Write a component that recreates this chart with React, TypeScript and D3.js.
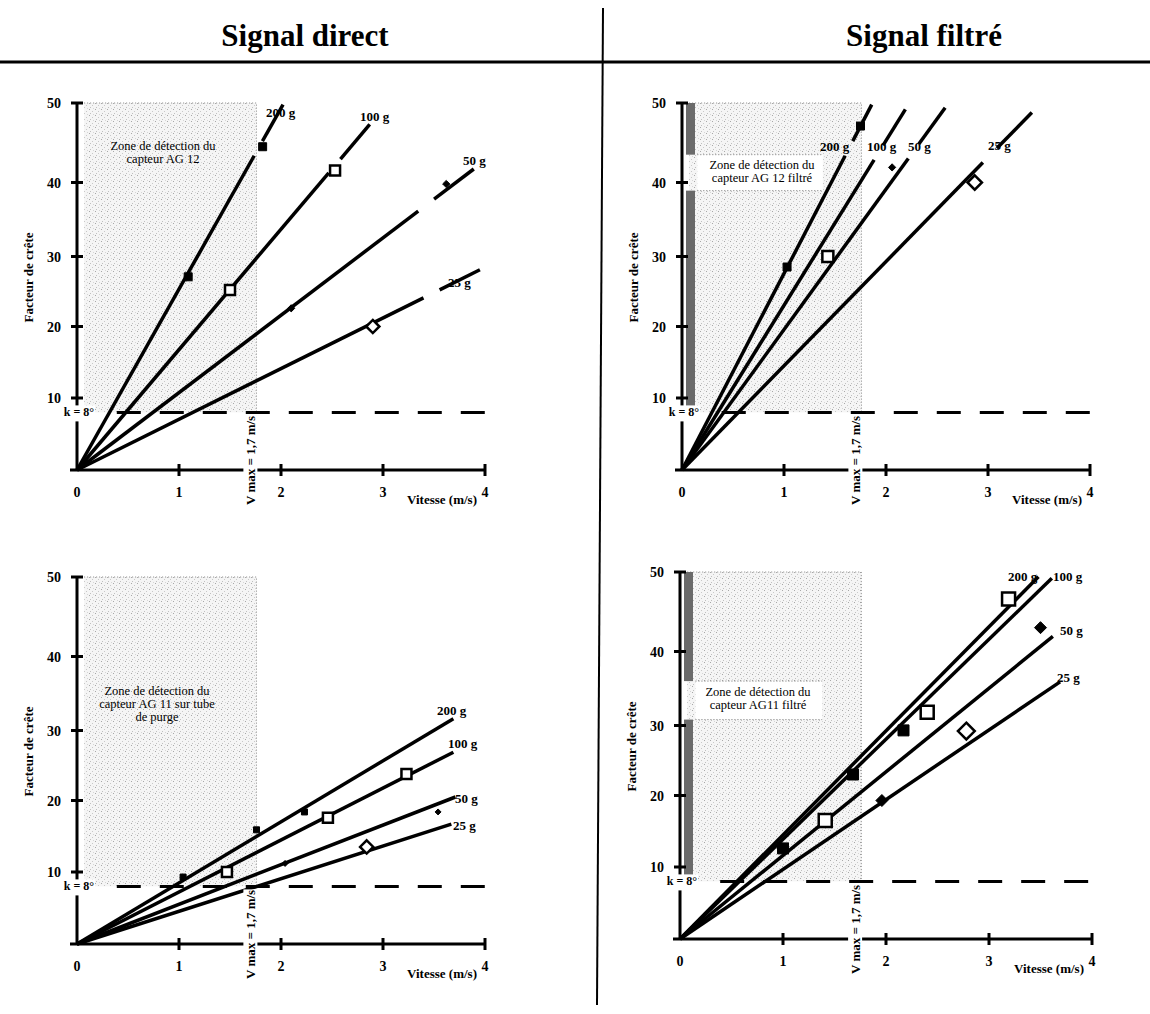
import React, { useEffect, useRef } from 'react';
import * as d3 from 'd3';

const massLabels = ['200 g', '100 g', '50 g', '25 g'];
const xTicks = [0, 1, 2, 3, 4];
const yTicks = [10, 20, 30, 40, 50];
const kValue = 8;
const vMax = 1.7;
const zoneLeft = 0.07;
const zoneRight = 1.76;
const titles = ['Signal direct', 'Signal filtré'];

// end of each fitted line (200 g, 100 g, 50 g, 25 g), in (m/s, facteur de crête)
const directAG12Ends = [[2.02, 49.8], [2.87, 47.3], [3.89, 41.7], [3.95, 28.1]];
const filteredAG12Ends = [[1.86, 49.8], [2.19, 49.2], [2.58, 49.4], [3.43, 48.8]];
const directAG11Ends = [[3.69, 31.6], [3.69, 26.9], [3.71, 20.5], [3.67, 16.7]];
const filteredAG11Ends = [[3.48, 49.4], [3.61, 49.2], [3.62, 41.9], [3.69, 35.9]];

// measured points
const directAG12Squares = [[1.09, 27.1], [1.82, 44.5]];
const directAG12OpenSquares = [[1.5, 25.2], [2.53, 41.5]];
const directAG12Diamonds = [[2.1, 22.6], [3.62, 39.8]];
const directAG12OpenDiamonds = [[2.9, 20.0]];

const filteredAG12Squares = [[1.03, 28.5], [1.75, 47.1]];
const filteredAG12OpenSquares = [[1.43, 30.0]];
const filteredAG12Diamonds = [[2.06, 41.9]];
const filteredAG12OpenDiamonds = [[2.87, 40.0]];

const directAG11Squares = [[1.04, 9.3], [1.76, 15.9], [2.23, 18.4]];
const directAG11OpenSquares = [[1.47, 10.0], [2.46, 17.6], [3.23, 23.8]];
const directAG11Diamonds = [[2.04, 11.2], [3.54, 18.4]];
const directAG11OpenDiamonds = [[2.84, 13.5]];

const filteredAG11Squares = [[1.0, 12.6], [1.68, 23.0], [2.17, 29.3]];
const filteredAG11OpenSquares = [[1.41, 16.5], [2.4, 31.8], [3.19, 46.6]];
const filteredAG11Diamonds = [[1.96, 19.3], [3.5, 43.0]];
const filteredAG11OpenDiamonds = [[2.78, 29.2]];

const directAG12Zone = ['Zone de détection du', 'capteur AG 12'];
const filteredAG12Zone = ['Zone de détection du', 'capteur AG 12 filtré'];
const directAG11Zone = ['Zone de détection du', 'capteur AG 11 sur tube', 'de purge'];
const filteredAG11Zone = ['Zone de détection du', 'capteur AG11 filtré'];

type Pt = number[];
interface Panel {
  tx: number;
  ty: number;
  w: number;
  ends: Pt[];
  markers: { shape: string; size: number; pts: Pt[] }[];
  zoneText: string[];
  zonePos: number[];
  labelPos: number[][];
  stub: boolean;
  strip?: number[][];
  box?: number[];
}

const panels: Panel[] = [
  {
    tx: 77, ty: 103, w: 408, ends: directAG12Ends, stub: true,
    markers: [
      { shape: 'sq', size: 8, pts: directAG12Squares },
      { shape: 'osq', size: 10, pts: directAG12OpenSquares },
      { shape: 'dia', size: 6, pts: directAG12Diamonds },
      { shape: 'odia', size: 11, pts: directAG12OpenDiamonds },
    ],
    zoneText: directAG12Zone, zonePos: [86, 47],
    labelPos: [[189, 14], [283, 18], [386, 62], [371, 184]],
  },
  {
    tx: 682, ty: 103, w: 408, ends: filteredAG12Ends, stub: true,
    markers: [
      { shape: 'sq', size: 8, pts: filteredAG12Squares },
      { shape: 'osq', size: 11, pts: filteredAG12OpenSquares },
      { shape: 'dia', size: 6, pts: filteredAG12Diamonds },
      { shape: 'odia', size: 12, pts: filteredAG12OpenDiamonds },
    ],
    zoneText: filteredAG12Zone, zonePos: [80, 66],
    labelPos: [[138, 48], [185, 48], [226, 48], [306, 47]],
    strip: [[kValue, 38.9], [43.5, 50]], box: [0.15, 1.38, 38.9, 43.5],
  },
  {
    tx: 77, ty: 577, w: 408, ends: directAG11Ends, stub: false,
    markers: [
      { shape: 'sq', size: 6, pts: directAG11Squares },
      { shape: 'osq', size: 10, pts: directAG11OpenSquares },
      { shape: 'dia', size: 5, pts: directAG11Diamonds },
      { shape: 'odia', size: 11, pts: directAG11OpenDiamonds },
    ],
    zoneText: directAG11Zone, zonePos: [80, 118],
    labelPos: [[360, 138], [371, 171], [378, 226], [376, 253]],
  },
  {
    tx: 680, ty: 572, w: 412, ends: filteredAG11Ends, stub: false,
    markers: [
      { shape: 'sq', size: 11, pts: filteredAG11Squares },
      { shape: 'osq', size: 13, pts: filteredAG11OpenSquares },
      { shape: 'dia', size: 10, pts: filteredAG11Diamonds },
      { shape: 'odia', size: 14, pts: filteredAG11OpenDiamonds },
    ],
    zoneText: filteredAG11Zone, zonePos: [78, 124],
    labelPos: [[328, 9], [373, 9], [380, 63], [377, 110]],
    strip: [[kValue, 30.8], [36, 50]], box: [0.15, 1.38, 30.8, 36],
  },
];

const FONT = '"Liberation Serif", "DejaVu Serif", serif';

const App: React.FC = () => {
  const ref = useRef<SVGSVGElement | null>(null);

  useEffect(() => {
    const svg = d3.select(ref.current);
    svg.selectAll('*').remove();

    // speckled grey for the detection zones
    const defs = svg.append('defs');
    const pat = defs
      .append('pattern')
      .attr('id', 'stipple')
      .attr('width', 6)
      .attr('height', 6)
      .attr('patternUnits', 'userSpaceOnUse');
    pat.append('rect').attr('width', 6).attr('height', 6).attr('fill', '#f5f5f5');
    [[0, 0, '#a8a8a8'], [3, 2, '#c8c8c8'], [1, 4, '#c0c0c0'], [4, 5, '#d6d6d6']].forEach(([px, py, c]) =>
      pat.append('rect').attr('x', px).attr('y', py).attr('width', 1).attr('height', 1).attr('fill', c as string));

    svg.append('rect').attr('width', 1150).attr('height', 1014).attr('fill', '#fff');

    // header
    svg.append('line').attr('x1', 0).attr('x2', 1150).attr('y1', 62).attr('y2', 62)
      .attr('stroke', '#000').attr('stroke-width', 3);
    svg.append('line').attr('x1', 603).attr('x2', 597).attr('y1', 8).attr('y2', 1005)
      .attr('stroke', '#000').attr('stroke-width', 2);
    svg.selectAll('.title')
      .data(titles)
      .enter()
      .append('text')
      .attr('x', (_, i) => (i === 0 ? 305 : 924))
      .attr('y', 46)
      .attr('text-anchor', 'middle')
      .attr('font-family', FONT)
      .attr('font-weight', 'bold')
      .attr('font-size', 31)
      .text((d) => d);

    panels.forEach((p) => {
      const g = svg.append('g').attr('transform', `translate(${p.tx},${p.ty})`);
      const x = d3.scaleLinear().domain([0, 4]).range([0, p.w]);
      const y = d3.scaleLinear().domain([0, 10, 20, 30, 40, 50]).range([367, 295, 223.5, 153.5, 79.5, 0]);

      // detection zone
      g.append('rect')
        .attr('x', x(zoneLeft))
        .attr('y', y(50))
        .attr('width', x(zoneRight) - x(zoneLeft))
        .attr('height', y(kValue) - y(50))
        .attr('fill', 'url(#stipple)');
      g.append('path')
        .attr('d', `M${x(zoneLeft)},${y(50)}H${x(zoneRight)}V${y(kValue)}`)
        .attr('fill', 'none')
        .attr('stroke', '#888')
        .attr('stroke-width', 1)
        .attr('stroke-dasharray', '1,2');
      if (p.box) {
        const [bx0, bx1, by0, by1] = p.box;
        g.append('rect')
          .attr('x', x(bx0)).attr('y', y(by1))
          .attr('width', x(bx1) - x(bx0)).attr('height', y(by0) - y(by1))
          .attr('fill', '#fff');
        [by0, by1].forEach((v) =>
          g.append('line').attr('x1', x(bx0)).attr('x2', x(bx1)).attr('y1', y(v)).attr('y2', y(v))
            .attr('stroke', '#777').attr('stroke-dasharray', '1,2'));
      }
      if (p.strip) {
        p.strip.forEach(([a, b]) =>
          g.append('rect').attr('x', 4).attr('y', y(b)).attr('width', 9)
            .attr('height', y(a) - y(b)).attr('fill', '#6a6a6a'));
      }
      g.selectAll('.zt')
        .data(p.zoneText)
        .enter()
        .append('text')
        .attr('x', p.zonePos[0])
        .attr('y', (_, i) => p.zonePos[1] + i * 13)
        .attr('text-anchor', 'middle')
        .attr('font-family', FONT)
        .attr('font-size', 12.5)
        .text((d) => d);

      // k = 8 threshold
      g.append('line')
        .attr('x1', x(0.39)).attr('x2', x(4))
        .attr('y1', y(kValue)).attr('y2', y(kValue))
        .attr('stroke', '#000').attr('stroke-width', 3)
        .attr('stroke-dasharray', '24,19');

      // fitted lines
      const line = d3.line();
      const o: [number, number] = [x(0), y(0)];
      p.ends.forEach(([ex, ey]) => {
        const e: [number, number] = [x(ex), y(ey)];
        const at = (t: number): [number, number] => [o[0] + (e[0] - o[0]) * t, o[1] + (e[1] - o[1]) * t];
        const segs = p.stub ? [[0, 0.86], [0.9, 1]] : [[0, 1]];
        segs.forEach(([t0, t1]) =>
          g.append('path').attr('d', line([at(t0), at(t1)])).attr('stroke', '#000')
            .attr('stroke-width', 3.5).attr('fill', 'none'));
      });

      // markers
      p.markers.forEach((m) => {
        m.pts.forEach(([mx, my]) => {
          const cx = x(mx);
          const cy = y(my);
          const h = m.size / 2;
          const open = m.shape === 'osq' || m.shape === 'odia';
          const d = m.shape.includes('sq')
            ? `M${cx - h},${cy - h}h${m.size}v${m.size}h${-m.size}Z`
            : `M${cx},${cy - h * 1.2}L${cx + h * 1.2},${cy}L${cx},${cy + h * 1.2}L${cx - h * 1.2},${cy}Z`;
          g.append('path')
            .attr('d', d)
            .attr('fill', open ? '#fff' : '#000')
            .attr('stroke', '#000')
            .attr('stroke-width', open ? 2.5 : 1);
        });
      });

      // line labels
      massLabels.forEach((t, i) =>
        g.append('text')
          .attr('x', p.labelPos[i][0]).attr('y', p.labelPos[i][1])
          .attr('font-family', FONT).attr('font-weight', 'bold').attr('font-size', 13)
          .text(t));

      // axes
      g.append('line').attr('x1', 0).attr('x2', 0).attr('y1', y(50)).attr('y2', y(0))
        .attr('stroke', '#000').attr('stroke-width', 3);
      g.append('line').attr('x1', -7).attr('x2', x(4)).attr('y1', y(0)).attr('y2', y(0))
        .attr('stroke', '#000').attr('stroke-width', 3);
      yTicks.forEach((v) => {
        g.append('line').attr('x1', -6).attr('x2', 6).attr('y1', y(v)).attr('y2', y(v))
          .attr('stroke', '#000').attr('stroke-width', 3);
        g.append('text').attr('x', -16).attr('y', y(v) + 5).attr('text-anchor', 'end')
          .attr('font-family', FONT).attr('font-weight', 'bold').attr('font-size', 14).text(v);
      });
      xTicks.forEach((v) => {
        if (v > 0)
          g.append('line').attr('x1', x(v)).attr('x2', x(v)).attr('y1', y(0) - 6).attr('y2', y(0) + 6)
            .attr('stroke', '#000').attr('stroke-width', 3);
        g.append('text').attr('x', x(v)).attr('y', y(0) + 27).attr('text-anchor', 'middle')
          .attr('font-family', FONT).attr('font-weight', 'bold').attr('font-size', 14).text(v);
      });
      g.append('text')
        .attr('x', x(4) - 8).attr('y', y(0) + 34).attr('text-anchor', 'end')
        .attr('font-family', FONT).attr('font-weight', 'bold').attr('font-size', 13)
        .text('Vitesse (m/s)');
      g.append('text')
        .attr('transform', `translate(-44,${y(27)}) rotate(-90)`)
        .attr('text-anchor', 'middle')
        .attr('font-family', FONT).attr('font-weight', 'bold').attr('font-size', 13)
        .text('Facteur de crête');

      // k label with a break in the y axis
      g.append('rect').attr('x', -13).attr('y', y(kValue) - 7).attr('width', 31).attr('height', 16).attr('fill', '#fff');
      g.append('text').attr('x', 2).attr('y', y(kValue) + 4).attr('text-anchor', 'middle')
        .attr('font-family', FONT).attr('font-weight', 'bold').attr('font-size', 12)
        .text('k = 8°');

      // V max label with a break in the x axis
      g.append('rect').attr('x', x(vMax) - 7).attr('y', y(kValue) + 3).attr('width', 14)
        .attr('height', y(0) + 36 - y(kValue) - 3).attr('fill', '#fff');
      g.append('text')
        .attr('transform', `translate(${x(vMax)},${y(0) + 35}) rotate(-90)`)
        .attr('dominant-baseline', 'central')
        .attr('font-family', FONT).attr('font-weight', 'bold').attr('font-size', 13)
        .text(`V max = ${String(vMax).replace('.', ',')} m/s`);
    });
  }, []);

  return (
    <svg
      ref={ref}
      width={1150}
      height={1014}
      style={{ position: 'absolute', left: 0, top: 0, display: 'block' }}
    />
  );
};

export default App;
